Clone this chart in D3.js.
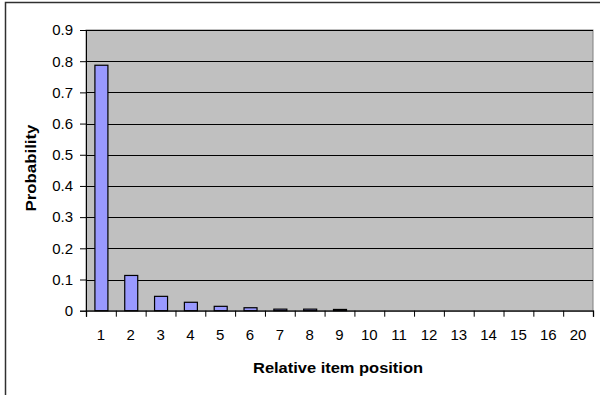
<!DOCTYPE html>
<html>
<head>
<meta charset="utf-8">
<script src="https://cdn.jsdelivr.net/npm/d3@7"></script>
<style>
  html, body { margin: 0; padding: 0; background: #fff; }
  svg { display: block; font-family: Arial, "Liberation Sans", sans-serif; }
</style>
</head>
<body>
<svg id="chart" width="600" height="395"></svg>
<script>
// Relative item positions (category labels) and their probabilities
const positions = ["1","2","3","4","5","6","7","8","9","10","11","12","13","14","15","16","20"];
const probabilities = [0.787, 0.113, 0.046, 0.027, 0.014, 0.0095, 0.005, 0.005, 0.004, 0, 0, 0, 0, 0, 0, 0, 0];
const yTicks = [0, 0.1, 0.2, 0.3, 0.4, 0.5, 0.6, 0.7, 0.8, 0.9];

const svg = d3.select("#chart");
const plot = { left: 86, right: 593, top: 30, bottom: 310.7 };

// Outer frame (runs off the right and bottom edges)
svg.append("rect")
  .attr("x", 5.5).attr("y", 2.5)
  .attr("width", 620).attr("height", 420)
  .attr("fill", "none").attr("stroke", "#303030").attr("stroke-width", 1.5);

const y = d3.scaleLinear().domain([0, 0.9]).range([plot.bottom, plot.top]);
const gap = 1 - 13 / ((plot.right - plot.left) / positions.length);
const x = d3.scaleBand().domain(positions)
  .range([plot.left, plot.right])
  .paddingInner(gap).paddingOuter(gap / 2);
const xEdge = d3.scaleLinear().domain([0, positions.length]).range([plot.left, plot.right]);

// Plot background
svg.append("rect")
  .attr("x", plot.left).attr("y", plot.top)
  .attr("width", plot.right - plot.left).attr("height", plot.bottom - plot.top)
  .attr("fill", "#c0c0c0").attr("stroke", "#808080").attr("stroke-width", 1);

// Horizontal gridlines
svg.append("g")
  .selectAll("line")
  .data(yTicks.filter(t => t > 0))
  .join("line")
  .attr("x1", plot.left).attr("x2", plot.right)
  .attr("y1", d => Math.round(y(d)) + 0.5).attr("y2", d => Math.round(y(d)) + 0.5)
  .attr("stroke", "#000").attr("stroke-width", 1);

// Bars
svg.append("g")
  .selectAll("rect")
  .data(positions.map((p, i) => ({ p, v: probabilities[i] })).filter(d => d.v > 0))
  .join("rect")
  .attr("x", d => x(d.p) + 0.5)
  .attr("y", d => y(d.v))
  .attr("width", x.bandwidth())
  .attr("height", d => plot.bottom - y(d.v))
  .attr("fill", "#9999ff")
  .attr("stroke", "#000").attr("stroke-width", 1.2);

// Y axis
const yAxis = svg.append("g")
  .attr("transform", `translate(${plot.left},0)`)
  .call(d3.axisLeft(y).tickValues(yTicks).tickSize(6).tickPadding(7)
    .tickFormat(d => d === 0 ? "0" : d3.format(".1f")(d)));
yAxis.select(".domain").attr("stroke", "#000");
yAxis.selectAll(".tick line").attr("stroke", "#000");
yAxis.selectAll("text").attr("font-size", 15).attr("fill", "#000")
  .attr("font-family", "Arial, 'Liberation Sans', sans-serif");

// X axis: tick marks at category boundaries
const xTickAxis = svg.append("g")
  .attr("transform", `translate(0,${plot.bottom})`)
  .call(d3.axisBottom(xEdge).tickValues(d3.range(positions.length + 1)).tickSize(6).tickFormat(""));
xTickAxis.select(".domain").attr("stroke", "#000").attr("stroke-width", 1.3);
xTickAxis.selectAll(".tick line").attr("stroke", "#000");

// X axis labels centred on each category
const xLabelAxis = svg.append("g")
  .attr("transform", `translate(0,${plot.bottom})`)
  .call(d3.axisBottom(x).tickSize(0).tickPadding(19));
xLabelAxis.select(".domain").remove();
xLabelAxis.selectAll("text").attr("font-size", 15).attr("fill", "#000")
  .attr("font-family", "Arial, 'Liberation Sans', sans-serif");

// Axis titles
svg.append("text")
  .attr("x", 338).attr("y", 372.5)
  .attr("text-anchor", "middle")
  .attr("font-size", 14).attr("font-weight", "bold")
  .attr("textLength", 170).attr("lengthAdjust", "spacingAndGlyphs")
  .text("Relative item position");

svg.append("text")
  .attr("transform", "translate(35.5,168) rotate(-90)")
  .attr("text-anchor", "middle")
  .attr("font-size", 14).attr("font-weight", "bold")
  .attr("textLength", 87).attr("lengthAdjust", "spacingAndGlyphs")
  .text("Probability");
</script>
</body>
</html>
